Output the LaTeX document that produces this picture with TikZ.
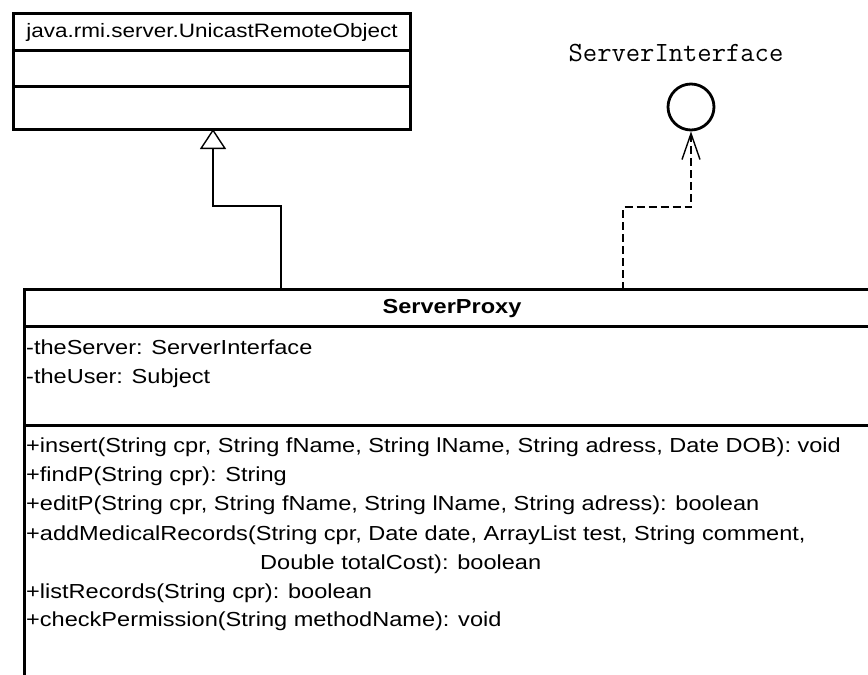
\documentclass[tikz,border=0pt]{standalone}
\usepackage{fontspec}
\setmainfont[FakeStretch=1.16]{Liberation Sans}
\usetikzlibrary{arrows.meta}
\newcommand{\umltext}{\fontsize{20.3}{24}\selectfont}
\newcommand{\umlhead}{\fontsize{19.4}{24}\selectfont}
\newcommand{\umlbold}{\fontsize{20.3}{24}\selectfont\bfseries}
\newcommand{\umlmono}{\ttfamily\fontsize{27.8}{30}\selectfont}
\begin{document}
\begin{tikzpicture}[x=1pt,y=-1pt,
  frame/.style={draw=black, line width=3pt, fill=white, inner sep=0pt, outer sep=0pt, anchor=north west},
  sep/.style={line width=3pt},
  member/.style={anchor=base west, inner sep=0pt, font=\umltext},
  title/.style={anchor=base, inner sep=0pt},
  gen/.style={line width=1.4pt, -{Triangle[open, width=26pt, length=20pt, line width=1.4pt]}},
  realize/.style={line width=1.4pt, dash pattern=on 8pt off 4pt,
    -{Straight Barb[length=26pt, width=18pt, line width=1.4pt]}},
  lollipop/.style={circle, draw, line width=2.8pt, minimum size=46pt, inner sep=0pt}]

\useasboundingbox (0,0) rectangle (868,675);
\fill[white] (0,0) rectangle (868,675);
\clip (0,0) rectangle (868,675);

% superclass box
\node[frame, minimum width=397pt, minimum height=116pt] (uro) at (13,13) {};
\coordinate (uroSepA) at (0,50.5);
\coordinate (uroSepB) at (0,86.5);
\draw[sep] (uro.west |- uroSepA) -- (uro.east |- uroSepA);
\draw[sep] (uro.west |- uroSepB) -- (uro.east |- uroSepB);
\node[title, font=\umlhead] (uroName) at (212,37) {java.rmi.server.UnicastRemoteObject};

% interface lollipop
\node[title, font=\umlmono] (ifaceName) at (676,61) {ServerInterface};
\node[lollipop] (iface) at (691,107) {};

% ServerProxy class box
\node[frame, minimum width=855pt, minimum height=420pt] (proxy) at (24.5,289.5) {};
\coordinate (pxSepA) at (0,326.7);
\coordinate (pxSepB) at (0,425.7);
\draw[sep] (proxy.west |- pxSepA) -- (proxy.east |- pxSepA);
\draw[sep] (proxy.west |- pxSepB) -- (proxy.east |- pxSepB);
\node[title, font=\umlbold] (proxyName) at (452,313) {ServerProxy};

% attributes
\node[member] (attrServer) at (26,354) {-theServer: ServerInterface};
\node[member] (attrUser) at (26,383) {-theUser: Subject};

% operations
\node[member] (opInsert) at (26,452) {+insert(String cpr, String fName, String lName, String adress, Date DOB): void};
\node[member] (opFind) at (26,481) {+findP(String cpr): String};
\node[member] (opEdit) at (26,510) {+editP(String cpr, String fName, String lName, String adress): boolean};
\node[member] (opAdd) at (26,540) {+addMedicalRecords(String cpr, Date date, ArrayList test, String comment,};
\node[member] (opAddCont) at (260,569) {Double totalCost): boolean};
\node[member] (opList) at (26,598) {+listRecords(String cpr): boolean};
\node[member] (opCheck) at (26,626) {+checkPermission(String methodName): void};

% generalization: ServerProxy extends UnicastRemoteObject
\coordinate (genFoot) at (281,0);
\coordinate (genTop) at (213,0);
\coordinate (genBend) at (0,206);
\draw[gen] (genFoot |- proxy.north) |- (genTop |- genBend) -- (genTop |- uro.south);

% realization: ServerProxy implements ServerInterface
\coordinate (rzFoot) at (623,0);
\coordinate (rzBend) at (0,207);
\draw[realize] (rzFoot |- proxy.north) -- (rzFoot |- rzBend) -| (iface.south);
\end{tikzpicture}
\end{document}
